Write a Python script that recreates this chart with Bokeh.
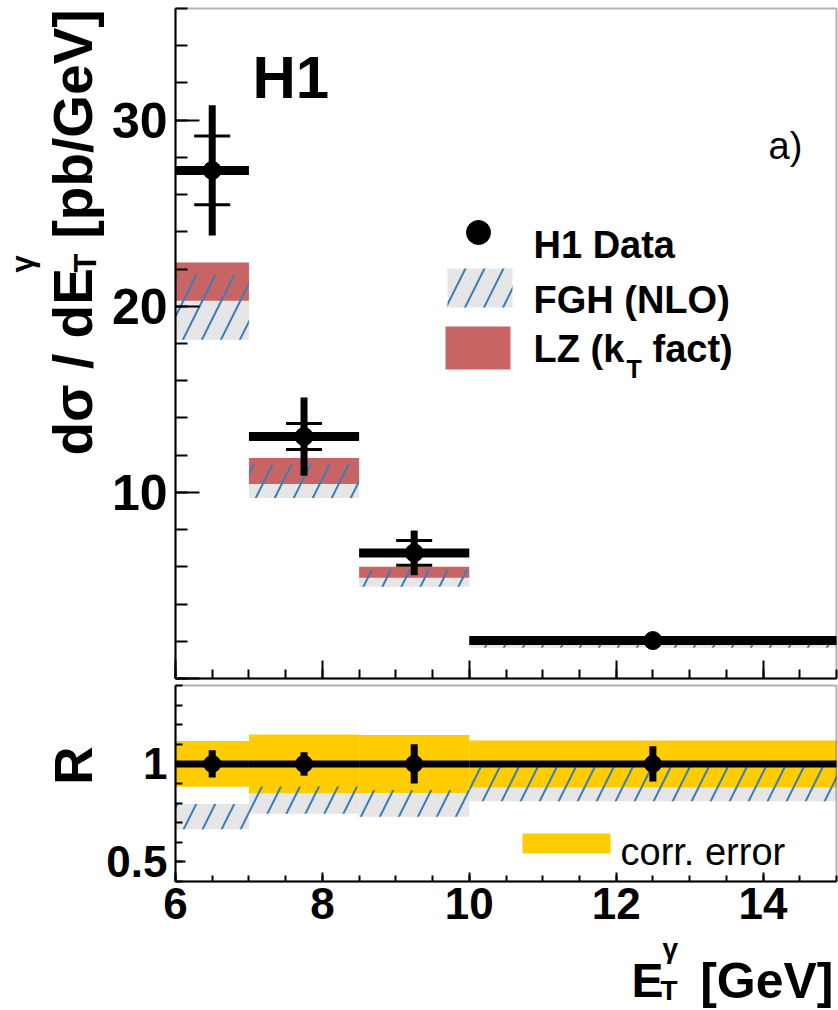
import math
from bokeh.plotting import figure
from bokeh.layouts import column
from bokeh.models import (Range1d, SingleIntervalTicker, CustomJSTickFormatter, Label,
                          BoxAnnotation, LinearAxis)
from bokeh.embed import file_html
from bokeh.resources import INLINE

# ---------------- data: prompt photon cross section in E_T^gamma bins ----------------
et_lo = [6.0, 7.0, 8.5, 10.0]
et_hi = [7.0, 8.5, 10.0, 15.0]
et_mid = [6.5, 7.75, 9.25, 12.5]
xsec = [27.3, 13.0, 6.75, 2.04]          # pb/GeV
err_total = [3.5, 2.1, 1.2, 0.15]
err_stat = [1.85, 0.7, 0.67, 0.08]

# theory predictions (bands)
fgh_lo = [18.2, 9.7, 4.93, 1.65]
fgh_hi = [21.7, 11.5, 5.85, 2.01]
lz_lo = [20.3, 10.45, 5.42, 1.9]
lz_hi = [22.35, 11.85, 6.0, 2.15]

# ratio panel: uncorrelated errors and correlated error band (relative)
ratio_err = [0.07, 0.06, 0.10, 0.09]
corr_err = [0.117, 0.15, 0.148, 0.12]

legend_labels = ["H1 Data", "FGH (NLO)", "LZ (k", "T", "fact)"]

FONT = "Liberation Sans"
RED = "#c96464"
GREY = "#e6e6e6"
HATCH = "#3a7db8"
YELLOW = "#ffcc00"
HATCH_KW = dict(hatch_pattern="/", hatch_color=HATCH, hatch_weight=2, hatch_scale=38)

# ---------------- page geometry (pixels) ----------------
# Each figure's frame fills its whole canvas; the axes sit at fixed data
# locations so that the titles around them can be drawn without clipping.
W = 838
TOP_H = 681
BOT_H = 329
TOP = dict(off=0, h=TOP_H, left=175, right=836, top=8, bottom=678, x0=6.0, x1=15.0, y0=0.0, y1=36.0)
BOT = dict(off=TOP_H, h=BOT_H, left=175, right=836, top=685, bottom=881, x0=6.0, x1=15.0, y0=0.4, y1=1.4)


def ranges(g):
    sx = (g["right"] - g["left"]) / (g["x1"] - g["x0"])
    sy = (g["bottom"] - g["top"]) / (g["y1"] - g["y0"])
    xr = Range1d(g["x0"] - g["left"] / sx, g["x1"] + (W - g["right"]) / sx)
    yr = Range1d(g["y0"] - (g["off"] + g["h"] - g["bottom"]) / sy, g["y1"] + (g["top"] - g["off"]) / sy)
    return xr, yr


def to_data(g, px, py):
    x = g["x0"] + (px - g["left"]) * (g["x1"] - g["x0"]) / (g["right"] - g["left"])
    y = g["y0"] + (g["bottom"] - py) * (g["y1"] - g["y0"]) / (g["bottom"] - g["top"])
    return x, y


def put_text(fig, g, px, py, text, size, bold=True, align="left", baseline="alphabetic", angle=0.0):
    x, y = to_data(g, px, py)
    fig.add_layout(Label(x=x, y=y, text=text, text_font=FONT, text_font_size=f"{size}px",
                         text_font_style="bold" if bold else "normal", text_color="black",
                         text_align=align, text_baseline=baseline, angle=angle))


def make_panel(g, h):
    xr, yr = ranges(g)
    fig = figure(width=W, height=h, x_range=xr, y_range=yr, x_axis_location=None, y_axis_location=None,
                 output_backend="svg", toolbar_location=None, min_border=0,
                 min_border_left=0, min_border_right=0, min_border_top=0, min_border_bottom=0)
    fig.grid.visible = False
    fig.outline_line_color = None
    fig.background_fill_color = "white"
    fig.border_fill_color = "white"
    return fig


def add_axes(fig, g, x_ticker, y_ticker, x_fmt, y_fmt, ylab, xlab, y_in, y_min, x_in, x_min):
    xa = LinearAxis(ticker=x_ticker, formatter=x_fmt, fixed_location=g["y0"], bounds=(g["x0"], g["x1"]))
    ya = LinearAxis(ticker=y_ticker, formatter=y_fmt, fixed_location=g["x0"], bounds=(g["y0"], g["y1"]))
    for ax in (xa, ya):
        ax.axis_line_width = 2
        ax.major_tick_line_width = 2
        ax.minor_tick_line_width = 2
        ax.major_tick_out = 0
        ax.minor_tick_out = 0
        ax.major_label_text_font = FONT
        ax.major_label_text_font_style = "bold"
        ax.major_label_text_color = "black"
    ya.major_label_text_font_size = f"{ylab}px"
    ya.major_label_standoff = 8
    ya.major_tick_in, ya.minor_tick_in = y_in, y_min
    xa.major_label_text_font_size = f"{xlab}px"
    xa.major_label_standoff = 6
    xa.major_tick_in, xa.minor_tick_in = x_in, x_min
    fig.add_layout(xa, "below")
    fig.add_layout(ya, "left")
    fig.add_layout(BoxAnnotation(left=g["x0"], right=g["x1"], bottom=g["y0"], top=g["y1"],
                                 fill_color=None, line_color="black", line_width=2))


# ---------------- upper panel: cross section ----------------
top = make_panel(TOP, TOP_H)
add_axes(top, TOP,
         SingleIntervalTicker(interval=2, num_minor_ticks=4),
         SingleIntervalTicker(interval=10, num_minor_ticks=5),
         CustomJSTickFormatter(code="return '';"),
         CustomJSTickFormatter(code="return tick == 0 ? '' : tick.toString();"),
         50, 12, 24, 12, 18, 9)

# theory bands: grey base of FGH, LZ on top, FGH hatching over both
top.quad(left=et_lo, right=et_hi, bottom=fgh_lo, top=fgh_hi, fill_color=GREY, line_color=None)
top.quad(left=et_lo, right=et_hi, bottom=lz_lo, top=lz_hi, fill_color=RED, line_color=None)
top.quad(left=et_lo, right=et_hi, bottom=fgh_lo, top=fgh_hi, fill_color=None, line_color=None, **HATCH_KW)

# data: bin width bars, total error bars, statistical ticks, markers
top.segment(x0=et_lo, y0=xsec, x1=et_hi, y1=xsec, line_width=9, line_color="black")
top.segment(x0=et_mid, y0=[v - e for v, e in zip(xsec, err_total)],
            x1=et_mid, y1=[v + e for v, e in zip(xsec, err_total)], line_width=7, line_color="black")
top.scatter(x=et_mid + et_mid,
            y=[v - e for v, e in zip(xsec, err_stat)] + [v + e for v, e in zip(xsec, err_stat)],
            marker="dash", size=36, line_width=3, line_color="black")
top.scatter(x=et_mid, y=xsec, marker="circle", size=18, fill_color="black", line_color="black")

# titles inside the frame
put_text(top, TOP, 252, 77, "H1", 60)
put_text(top, TOP, 768, 145, "a)", 38, bold=False)

# legend
lx, ly = to_data(TOP, 478, 232)
top.scatter(x=[lx], y=[ly], marker="circle", size=24, fill_color="black", line_color="black")
x0, y0 = to_data(TOP, 447, 307)
x1, y1 = to_data(TOP, 512, 268)
top.quad(left=[x0], right=[x1], bottom=[y0], top=[y1], fill_color=GREY, line_color=None)
top.quad(left=[x0], right=[x1], bottom=[y0], top=[y1], fill_color=None, line_color=None, **HATCH_KW)
x0, y0 = to_data(TOP, 445, 369)
x1, y1 = to_data(TOP, 510, 326)
top.quad(left=[x0], right=[x1], bottom=[y0], top=[y1], fill_color=RED, line_color=None)
put_text(top, TOP, 533, 244, legend_labels[0], 38)
put_text(top, TOP, 533, 299, legend_labels[1], 38)
put_text(top, TOP, 533, 348, legend_labels[2], 38)
put_text(top, TOP, 626, 368, legend_labels[3], 25)
put_text(top, TOP, 652, 348, legend_labels[4], 38)

# y-axis title, rotated, built from pieces (sub/superscript on E)
YB = 72  # baseline column of the rotated title
put_text(top, TOP, YB, 455, "d\u03c3 / dE", 55, angle=math.pi / 2)
put_text(top, TOP, YB + 13, 272, "T", 31, angle=math.pi / 2)
put_text(top, TOP, YB - 50, 272, "\u03b3", 31, angle=math.pi / 2)
put_text(top, TOP, YB, 238, "[pb/GeV]", 55, angle=math.pi / 2)

# ---------------- lower panel: ratio ----------------
bot = make_panel(BOT, BOT_H)
add_axes(bot, BOT,
         SingleIntervalTicker(interval=2, num_minor_ticks=4),
         SingleIntervalTicker(interval=0.5, num_minor_ticks=5),
         CustomJSTickFormatter(code="return tick.toString();"),
         CustomJSTickFormatter(code="return tick.toString();"),
         44, 44, 10, 7, 9, 6)

r_fgh_lo = [f / d for f, d in zip(fgh_lo, xsec)]
r_fgh_hi = [f / d for f, d in zip(fgh_hi, xsec)]
r_data = [d / d for d in xsec]

bot.quad(left=et_lo, right=et_hi, bottom=r_fgh_lo, top=r_fgh_hi, fill_color=GREY, line_color=None)
bot.quad(left=et_lo, right=et_hi, bottom=[1 - c for c in corr_err], top=[1 + c for c in corr_err],
         fill_color=YELLOW, line_color=None)
bot.quad(left=et_lo, right=et_hi, bottom=r_fgh_lo, top=r_fgh_hi, fill_color=None, line_color=None, **HATCH_KW)

bot.segment(x0=et_lo, y0=r_data, x1=et_hi, y1=r_data, line_width=7, line_color="black")
bot.segment(x0=et_mid, y0=[r - e for r, e in zip(r_data, ratio_err)],
            x1=et_mid, y1=[r + e for r, e in zip(r_data, ratio_err)], line_width=7, line_color="black")
bot.scatter(x=et_mid, y=r_data, marker="circle", size=17, fill_color="black", line_color="black")

# correlated-error legend
x0, y0 = to_data(BOT, 522, 853)
x1, y1 = to_data(BOT, 610, 833)
bot.quad(left=[x0], right=[x1], bottom=[y0], top=[y1], fill_color=YELLOW, line_color=None)
put_text(bot, BOT, 620, 851, "corr. error", 38, bold=False)

# axis titles
put_text(bot, BOT, 73, 765, "R", 53, align="center", angle=math.pi / 2)
put_text(bot, BOT, 631, 980, "E", 48)
put_text(bot, BOT, 660, 990, "T", 28)
put_text(bot, BOT, 662, 948, "\u03b3", 28)
put_text(bot, BOT, 833, 980, "[GeV]", 50, align="right")

layout = column(top, bot)
open("out.html", "w").write(file_html(layout, INLINE))
